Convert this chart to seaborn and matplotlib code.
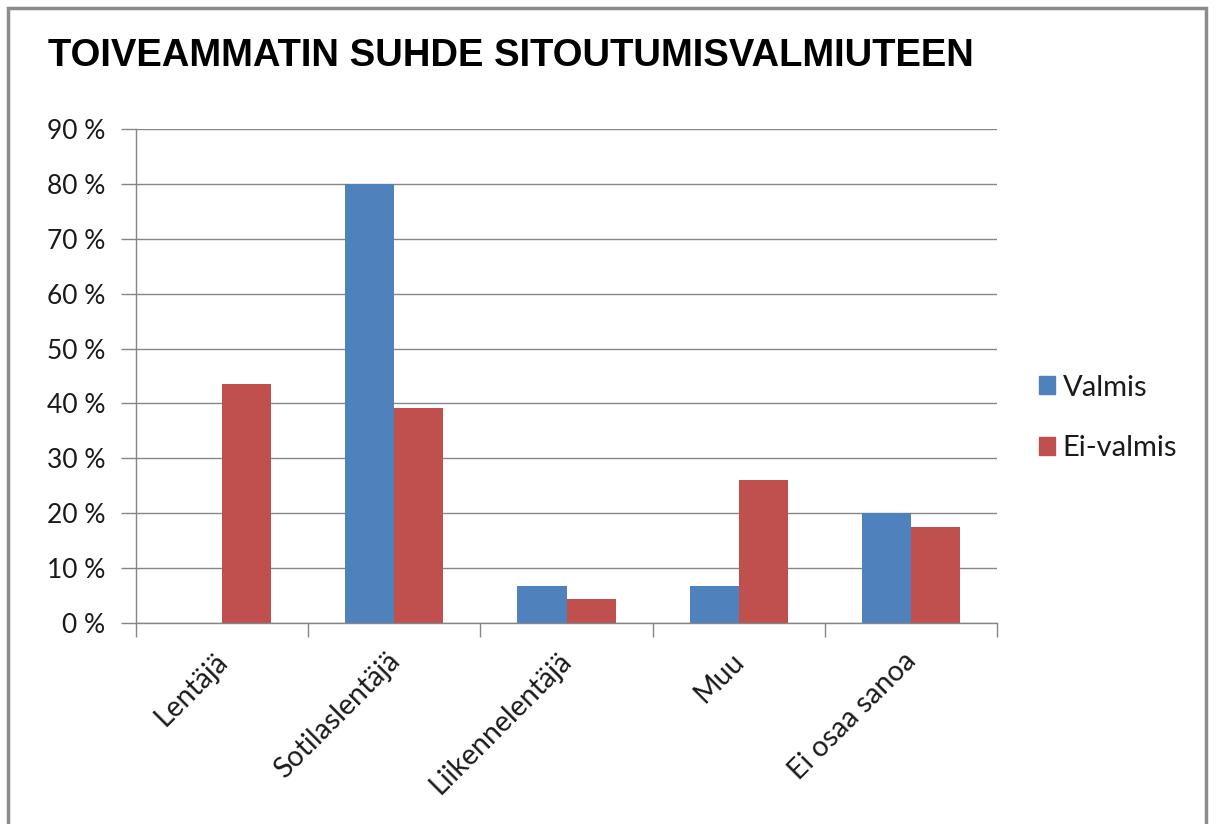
import matplotlib
matplotlib.use("Agg")
import matplotlib.pyplot as plt
import matplotlib.patches as mpatches
import matplotlib.transforms as mtransforms
from matplotlib.ticker import FuncFormatter, FixedLocator
import seaborn as sns
import pandas as pd

categories = ["Lentäjä", "Sotilaslentäjä", "Liikennelentäjä", "Muu", "Ei osaa sanoa"]
series_names = ["Valmis", "Ei-valmis"]
valmis = [0.0, 0.80, 0.067, 0.067, 0.20]
ei_valmis = [0.435, 0.391, 0.043, 0.261, 0.174]
y_ticks = [0, 0.1, 0.2, 0.3, 0.4, 0.5, 0.6, 0.7, 0.8, 0.9]
title = "TOIVEAMMATIN SUHDE SITOUTUMISVALMIUTEEN"
colors = ["#4F81BD", "#C0504D"]

df = pd.DataFrame({
    "cat": categories * 2,
    "series": [series_names[0]] * len(categories) + [series_names[1]] * len(categories),
    "value": valmis + ei_valmis,
})

sns.set_theme(style="white")
plt.rcParams["font.family"] = ["Lato", "DejaVu Sans"]

fig = plt.figure(figsize=(12.16, 8.24), dpi=100)
ax = fig.add_axes([136 / 1216, 1 - 623 / 824, (997 - 136) / 1216, (623 - 129) / 824])

sns.barplot(data=df, x="cat", y="value", hue="series", order=categories,
            hue_order=series_names, palette=colors, width=0.57, gap=0,
            saturation=1, ax=ax, legend=False, edgecolor="none", linewidth=0)

ax.set_xlim(-0.5, len(categories) - 0.5)
ax.set_ylim(0, 0.9)
ax.set_yticks(y_ticks)
ax.yaxis.set_major_formatter(FuncFormatter(lambda v, p: f"{int(round(v * 100))} %"))
ax.grid(axis="y", color="#868686", linewidth=1)
ax.set_axisbelow(True)
for s in ["top", "right"]:
    ax.spines[s].set_visible(False)
for s in ["left", "bottom"]:
    ax.spines[s].set_color("#868686")
    ax.spines[s].set_linewidth(1)
ax.set_xlabel("")
ax.set_ylabel("")
ax.tick_params(axis="y", left=True, length=11, color="#868686", width=1,
               labelsize=19, labelcolor="#1a1a1a", pad=11)
ax.set_xticks(range(len(categories)))
ax.set_xticklabels(categories, rotation=45, ha="right", rotation_mode="anchor",
                   fontsize=20.5, color="#1a1a1a")
ax.tick_params(axis="x", which="major", length=0, pad=18)
offset = mtransforms.ScaledTranslation(-8 / 100, 0, fig.dpi_scale_trans)
for lbl in ax.get_xticklabels():
    lbl.set_transform(lbl.get_transform() + offset)
ax.xaxis.set_minor_locator(FixedLocator([i - 0.5 for i in range(len(categories) + 1)]))
ax.tick_params(axis="x", which="minor", bottom=True, length=10, color="#868686", width=1)

handles = [mpatches.Patch(color=c, label=n) for c, n in zip(colors, series_names)]
fig.legend(handles=handles, loc="center left", bbox_to_anchor=(1013 / 1216, 1 - 418 / 824),
           frameon=False, fontsize=21, handlelength=0.55, handleheight=0.55,
           handletextpad=0.25, labelspacing=1.2, labelcolor="#1a1a1a")

fig.text(48 / 1216, 1 - 56 / 824, title, fontsize=27.5, fontweight="bold",
         family=["Liberation Sans Narrow", "Liberation Sans"], va="center", ha="left", color="black")

fig.patches.append(mpatches.Rectangle((8 / 1216, -0.01), 1198 / 1216, 1 - 8 / 824 + 0.01,
                                      transform=fig.transFigure, fill=False,
                                      edgecolor="#8c8c8c", linewidth=2.5))

fig.savefig("out.png", dpi=100, facecolor="white")
